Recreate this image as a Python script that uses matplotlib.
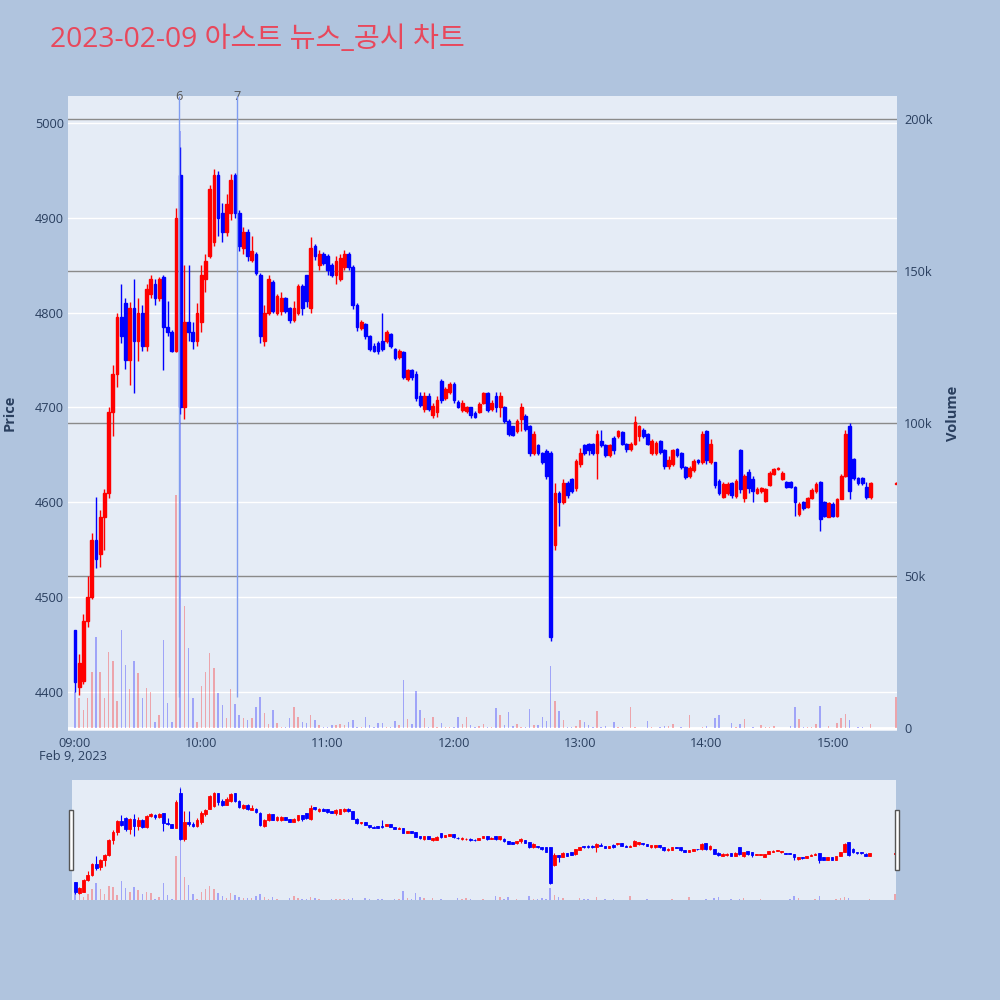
import matplotlib
matplotlib.use("Agg")
import matplotlib.pyplot as plt
import matplotlib.transforms as mtransforms
from matplotlib.patches import Rectangle
import pandas as pd

# 2-minute candles (last one is the 15:30 closing print)
times = pd.date_range("2023-02-09 09:00", "2023-02-09 15:18", freq="2min").append(
    pd.DatetimeIndex(["2023-02-09 15:30"]))

opens = [
    4465, 4405, 4412, 4475, 4500, 4560, 4545, 4585, 4610, 4695, 4735, 4795, 4810, 4750, 4805,
    4770, 4800, 4765, 4820, 4830, 4815, 4838, 4785, 4780, 4760, 4945, 4700, 4790, 4780, 4770,
    4790, 4835, 4860, 4875, 4945, 4905, 4885, 4905, 4945, 4905, 4868, 4885, 4856, 4862, 4840,
    4770, 4800, 4832, 4800, 4802, 4815, 4805, 4792, 4800, 4828, 4840, 4805, 4870, 4850, 4862, 4860,
    4850, 4840, 4835, 4848, 4862, 4848, 4808, 4784, 4788, 4775, 4765, 4768, 4770, 4770, 4778,
    4762, 4753, 4758, 4730, 4740, 4735, 4712, 4698, 4712, 4692, 4695, 4728, 4710, 4716, 4725, 4706,
    4697, 4696, 4700, 4694, 4695, 4705, 4715, 4698, 4712, 4700, 4700, 4686, 4680, 4675, 4688,
    4691, 4680, 4652, 4660, 4652, 4654, 4652, 4555, 4610, 4600, 4620, 4625, 4615, 4640, 4660,
    4662, 4662, 4652, 4665, 4660, 4650, 4668, 4670, 4674, 4662, 4656, 4662, 4670, 4676, 4672,
    4652, 4652, 4665, 4655, 4638, 4640, 4656, 4652, 4637, 4628, 4634, 4645, 4642, 4675, 4642,
    4642, 4622, 4606, 4610, 4620, 4607, 4655, 4605, 4632, 4625, 4610, 4612, 4601, 4618, 4630,
    4635, 4625, 4621, 4621, 4616, 4588, 4600, 4595, 4605, 4612, 4621, 4600, 4585, 4598, 4586,
    4604, 4628, 4680, 4646, 4626, 4626, 4616, 4606, 4619]
highs = [
    4465, 4440, 4482, 4522, 4568, 4606, 4592, 4614, 4700, 4745, 4800, 4830, 4815, 4811, 4835,
    4815, 4808, 4830, 4840, 4835, 4838, 4840, 4812, 4782, 4910, 4975, 4850, 4850, 4790, 4810,
    4850, 4862, 4935, 4952, 4949, 4916, 4925, 4946, 4947, 4908, 4890, 4888, 4881, 4864, 4842,
    4808, 4840, 4834, 4820, 4822, 4817, 4806, 4812, 4830, 4830, 4840, 4880, 4872, 4866, 4864, 4862,
    4852, 4860, 4862, 4866, 4864, 4850, 4810, 4792, 4789, 4776, 4768, 4770, 4800, 4782, 4779,
    4763, 4762, 4760, 4741, 4741, 4738, 4716, 4716, 4715, 4705, 4712, 4730, 4722, 4727, 4727, 4708,
    4708, 4702, 4701, 4696, 4706, 4716, 4716, 4708, 4716, 4716, 4702, 4688, 4680, 4688, 4705,
    4693, 4682, 4675, 4662, 4653, 4656, 4654, 4620, 4612, 4625, 4622, 4626, 4646, 4657, 4662,
    4663, 4663, 4676, 4676, 4662, 4662, 4670, 4676, 4675, 4663, 4664, 4691, 4682, 4678, 4673,
    4667, 4665, 4666, 4656, 4649, 4656, 4657, 4653, 4638, 4638, 4646, 4646, 4675, 4676, 4667,
    4643, 4625, 4621, 4621, 4621, 4625, 4656, 4630, 4635, 4628, 4616, 4616, 4615, 4633, 4636,
    4637, 4633, 4622, 4622, 4617, 4600, 4601, 4606, 4615, 4621, 4622, 4601, 4600, 4600, 4605,
    4630, 4676, 4684, 4647, 4627, 4627, 4621, 4621, 4621]
lows = [
    4400, 4397, 4408, 4468, 4498, 4531, 4532, 4550, 4605, 4670, 4722, 4768, 4741, 4724, 4715,
    4749, 4760, 4760, 4815, 4808, 4812, 4740, 4775, 4758, 4758, 4693, 4688, 4770, 4762, 4765,
    4780, 4822, 4858, 4870, 4881, 4875, 4881, 4898, 4900, 4865, 4862, 4855, 4853, 4840, 4768,
    4765, 4798, 4800, 4798, 4798, 4800, 4789, 4790, 4798, 4798, 4806, 4800, 4856, 4845, 4850, 4840,
    4838, 4830, 4833, 4845, 4845, 4804, 4781, 4782, 4772, 4760, 4758, 4756, 4760, 4768, 4763,
    4750, 4751, 4730, 4728, 4729, 4707, 4700, 4695, 4696, 4689, 4690, 4705, 4708, 4714, 4705, 4699,
    4695, 4694, 4689, 4689, 4694, 4704, 4695, 4696, 4695, 4690, 4684, 4670, 4670, 4673, 4675,
    4675, 4649, 4650, 4650, 4640, 4625, 4454, 4550, 4575, 4598, 4605, 4610, 4612, 4637, 4650,
    4650, 4650, 4625, 4658, 4648, 4648, 4651, 4668, 4660, 4653, 4654, 4660, 4665, 4668, 4660,
    4650, 4650, 4651, 4635, 4635, 4638, 4648, 4635, 4625, 4626, 4632, 4640, 4640, 4640, 4640,
    4615, 4608, 4605, 4608, 4605, 4605, 4610, 4600, 4610, 4600, 4609, 4610, 4600, 4617, 4629,
    4634, 4624, 4615, 4615, 4586, 4586, 4592, 4594, 4604, 4610, 4570, 4584, 4584, 4584, 4584,
    4603, 4627, 4603, 4624, 4618, 4618, 4604, 4604, 4619]
closes = [
    4410, 4430, 4475, 4500, 4560, 4540, 4585, 4610, 4695, 4735, 4795, 4775, 4750, 4805, 4770,
    4800, 4765, 4825, 4835, 4815, 4835, 4785, 4780, 4760, 4900, 4700, 4790, 4780, 4770, 4800,
    4840, 4855, 4930, 4945, 4900, 4885, 4915, 4940, 4905, 4870, 4885, 4860, 4865, 4842, 4775,
    4800, 4835, 4802, 4818, 4815, 4802, 4792, 4805, 4828, 4805, 4812, 4868, 4860, 4862, 4852, 4845,
    4840, 4855, 4858, 4862, 4848, 4808, 4785, 4790, 4775, 4762, 4760, 4760, 4762, 4780, 4765,
    4752, 4760, 4732, 4740, 4732, 4710, 4703, 4712, 4698, 4702, 4708, 4708, 4720, 4725, 4708, 4701,
    4705, 4700, 4692, 4690, 4704, 4715, 4697, 4705, 4700, 4712, 4686, 4672, 4671, 4686, 4700,
    4677, 4652, 4672, 4652, 4642, 4628, 4458, 4610, 4600, 4620, 4608, 4612, 4644, 4652, 4652,
    4655, 4652, 4672, 4660, 4650, 4660, 4655, 4675, 4662, 4656, 4662, 4685, 4680, 4670, 4662,
    4665, 4663, 4653, 4638, 4645, 4655, 4650, 4637, 4627, 4636, 4644, 4642, 4672, 4645, 4662,
    4618, 4610, 4619, 4619, 4608, 4622, 4614, 4628, 4615, 4612, 4614, 4615, 4614, 4631, 4635,
    4636, 4631, 4616, 4616, 4600, 4598, 4594, 4605, 4613, 4619, 4582, 4586, 4599, 4586, 4604,
    4628, 4672, 4612, 4626, 4620, 4620, 4606, 4620, 4620]
volumes = [
    12000, 10000, 6000, 9800, 18600, 30000, 18600, 10000, 25000, 21900, 9000, 32200, 20800, 13000, 21900,
    18000, 9800, 13300, 12000, 2200, 4500, 29000, 8200, 2000, 76400, 196000, 40000, 26200, 9800, 2000,
    13700, 18600, 24600, 19700, 11500, 7600, 3300, 12900, 8000, 4400, 3300, 2700, 3300, 7000, 10400,
    5000, 1500, 6000, 1600, 500, 500, 3300, 7000, 3800, 2200, 1600, 4400, 2700, 1000, 500, 500,
    1000, 1000, 1500, 1000, 2200, 2700, 500, 500, 3800, 1000, 500, 1600, 1600, 500, 500,
    2400, 1000, 15800, 3000, 1500, 12300, 6000, 3300, 300, 3600, 500, 1600, 300, 500, 500, 3800,
    1500, 3800, 1000, 500, 800, 1300, 300, 300, 6800, 4400, 1000, 5200, 800, 1400, 300,
    500, 6400, 1000, 1000, 3800, 2400, 20400, 9000, 5700, 2700, 500, 300, 800, 2700, 1900,
    1000, 300, 5500, 300, 900, 200, 2000, 300, 300, 200, 6900, 300, 200, 200, 2400,
    300, 200, 300, 800, 800, 1400, 200, 300, 200, 4400, 200, 200, 300, 900, 200,
    3300, 4400, 200, 200, 1600, 300, 1300, 3000, 200, 300, 200, 1000, 500, 300, 800,
    200, 200, 200, 900, 7100, 3000, 300, 300, 300, 1400, 7300, 200, 800, 200, 1600,
    3500, 4700, 2700, 200, 300, 300, 200, 1300, 10200]

# news / disclosure markers
event_labels = ["6", "7"]
event_times = pd.to_datetime(["2023-02-09 09:49:30", "2023-02-09 10:17:00"])

hour_ticks = ["09:00", "10:00", "11:00", "12:00", "13:00", "14:00", "15:00"]
price_ticks = [4400, 4500, 4600, 4700, 4800, 4900, 5000]
vol_ticks = [0, 50000, 100000, 150000, 200000]
vol_tick_labels = ["0", "50k", "100k", "150k", "200k"]

start = pd.Timestamp("2023-02-09 09:00")
mins = [(t - start).total_seconds() / 60 for t in times]
ev_mins = [(t - start).total_seconds() / 60 for t in event_times]
cols = ["#ff0000" if c >= o else "#0000ff" for o, c in zip(opens, closes)]

BG = "#b0c4de"
PLOT_BG = "#e5ecf6"
TXT = "#2a3f5f"
TICK_FONT = ["Open Sans", "DejaVu Sans"]
TICK_SIZE = 9.2

fig = plt.figure(figsize=(10, 10), dpi=100, facecolor=BG)


def draw_candles(axis, body_lw, wick_lw):
    bodies = [abs(c - o) for o, c in zip(opens, closes)]
    bottoms = [min(o, c) for o, c in zip(opens, closes)]
    axis.vlines(mins, lows, highs, colors=cols, lw=wick_lw, zorder=3)
    axis.bar(mins, bodies, bottom=bottoms, width=1.3, color=cols,
             edgecolor=cols, linewidth=body_lw, zorder=4)


# main panel: volume axes underneath, price axes on top
ax_vol = fig.add_axes([0.068, 0.269, 0.829, 0.635])
ax_vol.set_facecolor(PLOT_BG)
ax = ax_vol.twinx()
ax.patch.set_visible(False)
for a in (ax, ax_vol):
    for s in a.spines.values():
        s.set_visible(False)

xlim = (-3.3, 390.5)
ax_vol.set_xlim(xlim)
ax.set_xlim(xlim)
ax.set_ylim(4358.8, 5028.5)
ax_vol.set_ylim(-900, 207400)

# grids
price_tr = mtransforms.blended_transform_factory(ax_vol.transAxes, ax.transData)
for p in price_ticks:
    ax_vol.plot([0, 1], [p, p], transform=price_tr, color="white", lw=1, zorder=0.5)
for v in vol_ticks[1:]:
    ax_vol.axhline(v, color="#8a8a8a", lw=1, zorder=0.6)
ax_vol.axhline(0, color="white", lw=2, zorder=0.7)

ax_vol.bar(mins, volumes, width=0.7, color=cols, alpha=0.3, zorder=1)
draw_candles(ax, 1.0, 1.0)

# event lines
for lab, m in zip(event_labels, ev_mins):
    ax.vlines(m, 4395, 5028.5, color="#7f9cf0", lw=1, zorder=5)
    ax.text(m, 1.0, lab, transform=mtransforms.blended_transform_factory(ax.transData, ax.transAxes),
            ha="center", va="center", fontsize=TICK_SIZE, color="#555555", family=TICK_FONT)

# ticks
ax.yaxis.tick_left()
ax_vol.yaxis.tick_right()
ax.set_yticks(price_ticks)
ax.set_yticklabels([str(p) for p in price_ticks])
ax_vol.set_yticks(vol_ticks)
ax_vol.set_yticklabels(vol_tick_labels)
ax_vol.set_xticks([60 * i for i in range(len(hour_ticks))])
ax_vol.set_xticklabels(hour_ticks)
ax.tick_params(axis="y", length=0, pad=3, labelsize=TICK_SIZE, labelcolor=TXT)
ax_vol.tick_params(axis="y", length=0, pad=5, labelsize=TICK_SIZE, labelcolor=TXT)
ax_vol.tick_params(axis="x", length=0, pad=4, labelsize=TICK_SIZE, labelcolor=TXT)
for lbl in ax.get_yticklabels() + ax_vol.get_yticklabels() + ax_vol.get_xticklabels():
    lbl.set_family(TICK_FONT)

fig.text(0.073, 1 - 0.757, "Feb 9, 2023", ha="center", va="center", fontsize=TICK_SIZE,
         color=TXT, family=TICK_FONT)
fig.text(0.010, 1 - 0.413, "Price", rotation=90, ha="center", va="center", fontsize=10.5,
         fontweight="bold", color=TXT, family=TICK_FONT)
fig.text(0.953, 1 - 0.413, "Volume", rotation=90, ha="center", va="center", fontsize=10.5,
         fontweight="bold", color=TXT, family=TICK_FONT)

fig.text(0.05, 1 - 0.040, "2023-02-09 아스트 뉴스_공시 차트", ha="left", va="center",
         fontsize=20.3, color="#e8485c", family=["Open Sans", "Noto Sans CJK KR", "DejaVu Sans"])

# range slider
sl_vol = fig.add_axes([0.072, 0.100, 0.824, 0.120])
sl_vol.set_facecolor(PLOT_BG)
sl = sl_vol.twinx()
sl.patch.set_visible(False)
for a in (sl, sl_vol):
    for s in a.spines.values():
        s.set_visible(False)
    a.set_yticks([])
sl_vol.set_xlim(-1.5, 390.5)
sl.set_xlim(-1.5, 390.5)
sl_vol.set_xticks([])
sl_vol.set_ylim(0, 207400)
sl.set_ylim(4367, 5018)
sl_vol.bar(mins, volumes, width=0.7, color=cols, alpha=0.3)
draw_candles(sl, 0.6, 0.8)

for hx in (0.069, 0.895):
    fig.patches.append(Rectangle((hx, 1 - 0.870), 0.004, 0.060, transform=fig.transFigure,
                                 facecolor="white", edgecolor="#555555", lw=1, zorder=10))

fig.savefig("out.png", dpi=100, facecolor=BG)
